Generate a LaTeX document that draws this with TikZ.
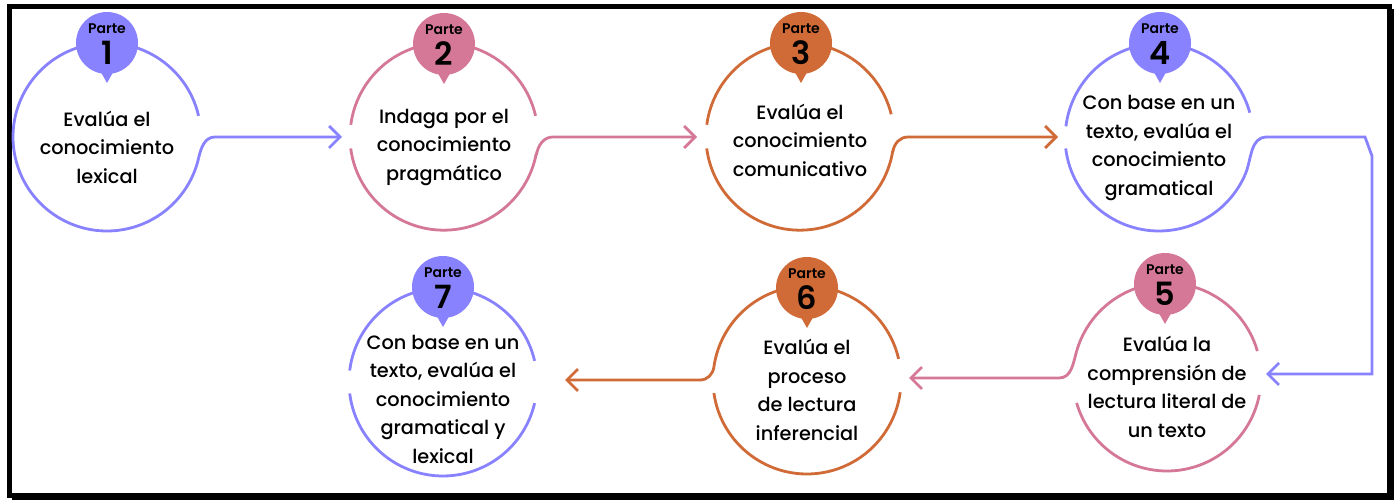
\documentclass[tikz,border=0pt]{standalone}
\usepackage{fontspec}
\setmainfont{Poppins Medium}[BoldFont={Poppins SemiBold}]
\usetikzlibrary{calc,arrows.meta}
\definecolor{pl}{RGB}{136,130,255}
\definecolor{pk}{RGB}{213,120,152}
\definecolor{og}{RGB}{208,106,54}
\tikzset{
  ring/.style={circle,minimum size=188pt,inner sep=0pt,outer sep=0pt},
  arcline/.style={line width=2.8pt},
  conn/.style={line width=2.8pt,-{Straight Barb[length=11pt,width=22pt,line width=2.8pt]}},
  badge/.style={circle,minimum size=62pt,inner sep=0pt,outer sep=0pt},
  txt/.style={align=center,font=\fontsize{19.3}{28.5}\selectfont,inner sep=0pt},
  parte/.style={font=\bfseries\fontsize{14}{14}\selectfont,inner sep=0pt},
  num/.style={font=\bfseries\fontsize{32}{32}\selectfont,inner sep=0pt}
}
\newcommand{\mybadge}[4]{%
  \node[badge,fill=#2] (#1) at #3 {};
  \fill[#2] ($(#1.center)+(-9,-24)$) -- ($(#1.center)+(9,-24)$) -- ($(#1.center)+(0,-40)$) -- cycle;
  \node[parte] (#1p) at ($(#1.center)+(0,14)$) {Parte};
  \node[num] (#1n) at ($(#1.center)+(0,-10)$) {#4};
}
\begin{document}
\begin{tikzpicture}[x=1pt,y=1pt]
\useasboundingbox (0,0) rectangle (1394,500);
\fill[white] (0,0) rectangle (1394,500);
% frame
\draw[line width=5pt] (9.5,4.5) rectangle (1389.5,493.5);
\fill[black] (1392,0) rectangle (1394,491);
\fill[black] (12,0) rectangle (1394,2);
% rings
\node[ring] (c1) at (107,363) {};
\node[ring] (c2) at (444,363) {};
\node[ring] (c3) at (800,363) {};
\node[ring] (c4) at (1159,363) {};
\node[ring] (c5) at (1167,123) {};
\node[ring] (c6) at (807,120) {};
\node[ring] (c7) at (443,118) {};
% arcs
\draw[arcline,pl] (c1.13) arc[start angle=13,end angle=347,radius=94pt];
\draw[arcline,pk] (c2.13) arc[start angle=13,end angle=172.5,radius=94pt];
\draw[arcline,pk] (c2.187.5) arc[start angle=187.5,end angle=349,radius=94pt];
\draw[arcline,og] (c3.14) arc[start angle=14,end angle=172.5,radius=94pt];
\draw[arcline,og] (c3.187.5) arc[start angle=187.5,end angle=351,radius=94pt];
\draw[arcline,pl] (c4.15.5) arc[start angle=15.5,end angle=173,radius=94pt];
\draw[arcline,pl] (c4.187) arc[start angle=187,end angle=336,radius=94pt];
\draw[arcline,pk] (c5.16) arc[start angle=16,end angle=164,radius=94pt];
\draw[arcline,pk] (c5.196) arc[start angle=196,end angle=349,radius=94pt];
\draw[arcline,og] (c6.13) arc[start angle=13,end angle=172,radius=94pt];
\draw[arcline,og] (c6.188) arc[start angle=188,end angle=352.5,radius=94pt];
\draw[arcline,pl] (c7.13) arc[start angle=13,end angle=173,radius=94pt];
\draw[arcline,pl] (c7.187) arc[start angle=187,end angle=347,radius=94pt];
% connectors
\draw[conn,pl] (c1.-13) to[out=77,in=180] ($(c1.center)+(108,0)$) -- ([xshift=-8pt]c2.west);
\draw[conn,pk] (c2.-11) to[out=79,in=180] ($(c2.center)+(109,0)$) -- ([xshift=-9pt]c3.west);
\draw[conn,og] (c3.-9) to[out=81,in=180] ($(c3.center)+(108,0)$) -- ([xshift=-7pt]c4.west);
\draw[conn,pl] (c4.-24) to[out=66,in=180] ($(c4.center)+(108,0)$) -- ($(c4.center)+(206,0)$) -- ($(c4.center)+(213,-19)$) |- ([xshift=5pt,yshift=3pt]c5.east);
\draw[conn,pk] (c5.164) to[out=-106,in=0] ($(c5.center)+(-108,-1)$) -- ([xshift=8pt,yshift=2pt]c6.east);
\draw[conn,og] (c6.172) to[out=-98,in=0] ($(c6.center)+(-107,0)$) -- ([xshift=28pt,yshift=2pt]c7.east);
% badges
\mybadge{b1}{pl}{(107,457)}{1}
\mybadge{b2}{pk}{(444,456)}{2}
\mybadge{b3}{og}{(801,457)}{3}
\mybadge{b4}{pl}{(1160,457)}{4}
\mybadge{b5}{pk}{(1165,216)}{5}
\mybadge{b6}{og}{(807,212)}{6}
\mybadge{b7}{pl}{(443,213)}{7}
% texts
\node[txt] (t1) at (107,353) {Evalúa el\\conocimiento\\lexical};
\node[txt] (t2) at (444,353) {Indaga por el\\conocimiento\\pragmático};
\node[txt] (t3) at (800,360) {Evalúa el\\conocimiento\\comunicativo};
\node[txt] (t4) at (1159,352) {Con base en un\\texto, evalúa el\\conocimiento\\gramatical};
\node[txt] (t5) at (1167,113) {Evalúa la\\comprensión de\\lectura literal de\\un texto};
\node[txt] (t6) at (807,110) {Evalúa el\\proceso\\de lectura\\inferencial};
\node[txt] (t7) at (443,101) {Con base en un\\texto, evalúa el\\conocimiento\\gramatical y\\lexical};
\end{tikzpicture}
\end{document}
